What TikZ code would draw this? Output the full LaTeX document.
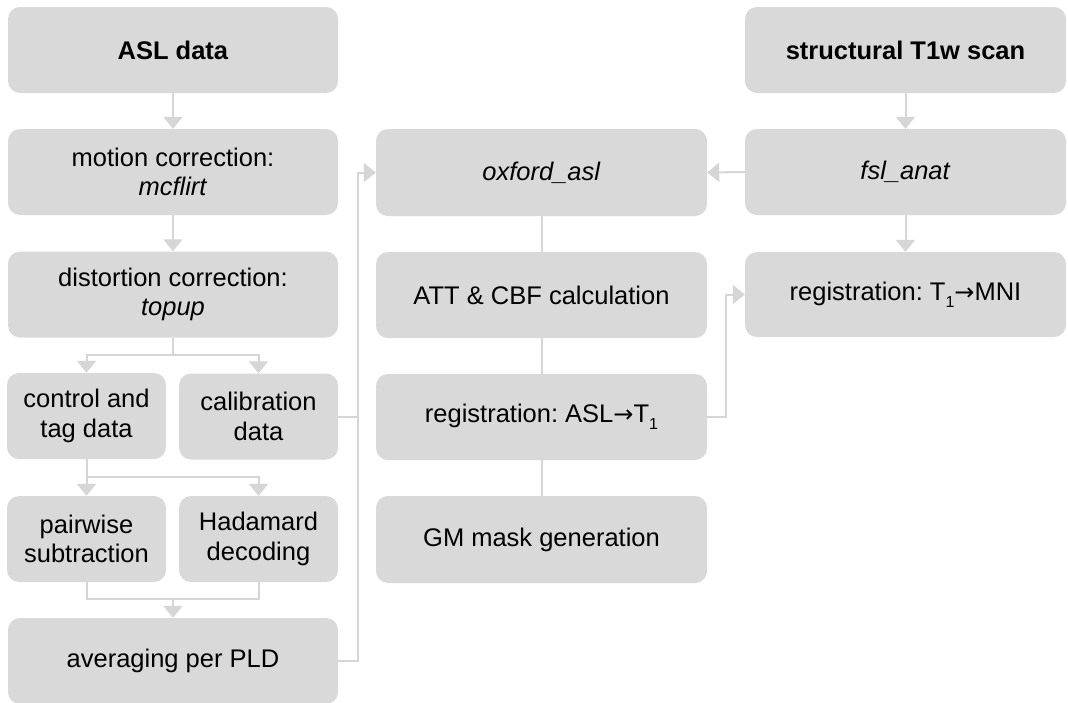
\documentclass[tikz,border=0pt]{standalone}
\usepackage{fontspec}
\setmainfont{Liberation Sans}
\newfontfamily\arrowfont{DejaVu Sans}
\usetikzlibrary{arrows.meta,calc}
\definecolor{boxgray}{RGB}{217,217,217}
\definecolor{linegray}{RGB}{214,214,214}
\newcommand{\myarrow}{{\arrowfont\fontsize{24}{24}\selectfont →}}
\newcommand{\subone}{\raisebox{-0.28em}{\fontsize{16}{16}\selectfont 1}}
\frenchspacing
\begin{document}
\begin{tikzpicture}[x=1pt,y=-1pt,
  box/.style={rounded corners=12pt, fill=boxgray, draw=none, align=center, inner sep=0pt,
    font=\fontsize{25.5}{29.5}\selectfont\frenchspacing},
  ln/.style={draw=linegray, line width=2pt},
  arr/.style={ln, -{Triangle[width=19pt,length=12pt]}, linegray}
]
\useasboundingbox[fill=white] (0,0) rectangle (1068,702);
% left column
\node[box, minimum width=330pt, minimum height=86pt] (asl) at (173,50) {\textbf{ASL data}};
\node[box, minimum width=330pt, minimum height=86pt] (motion) at (173,172) {motion correction:\\\textit{mcflirt}};
\node[box, minimum width=330pt, minimum height=86pt] (dist) at (173,294.5) {distortion correction:\\\textit{topup}};
\node[box, minimum width=159pt, minimum height=86pt] (ctrl) at (86.5,416) {control and\\tag data};
\node[box, minimum width=159pt, minimum height=86pt] (calib) at (258.5,416.5) {calibration\\data};
\node[box, minimum width=159pt, minimum height=86pt] (pair) at (86.5,539) {pairwise\\subtraction};
\node[box, minimum width=159pt, minimum height=86pt] (had) at (258.5,539) {Hadamard\\decoding};
\node[box, minimum width=330pt, minimum height=86pt] (avg) at (173,661) {averaging per PLD};
% middle column
\node[box, minimum width=331pt, minimum height=87pt] (oxford) at (541.5,172.5) {\textit{oxford\_asl}};
\node[box, minimum width=331pt, minimum height=86pt] (att) at (541.5,295) {ATT \& CBF calculation};
\node[box, minimum width=331pt, minimum height=86pt] (regasl) at (541.5,417) {registration: ASL\myarrow T\subone};
\node[box, minimum width=331pt, minimum height=87pt] (gm) at (541.5,539.5) {GM mask generation};
% right column
\node[box, minimum width=321pt, minimum height=86pt] (struct) at (905.5,50) {\textbf{structural T1w scan}};
\node[box, minimum width=321pt, minimum height=86pt] (fsl) at (905.5,172) {\textit{fsl\_anat}};
\node[box, minimum width=321pt, minimum height=85pt] (regt) at (905.5,294.5) {registration: T\subone\myarrow MNI};
% helper coordinates
\coordinate (s1) at (173,355);
\coordinate (s2) at (86.5,477);
\coordinate (m) at (173,599);
\coordinate (oxbus) at (358,172.5);
\coordinate (rb) at (726,294.5);
% connectors left
\draw[arr] (asl.south) -- (motion.north);
\draw[arr] (motion.south) -- (dist.north);
\draw[ln] (dist.south) -- (s1);
\draw[arr] (s1) -| (ctrl.north);
\draw[arr] (s1) -| (calib.north);
\draw[ln] (ctrl.south) -- (s2);
\draw[arr] (s2) -- (pair.north);
\draw[arr] (s2) -| (had.north);
\draw[ln] (pair.south) |- (m);
\draw[ln] (had.south) |- (m);
\draw[arr] (m) -- (avg.north);
\draw[ln] (calib.east) -- (calib.east -| oxbus);
\draw[arr] (avg.east) -| (oxbus) -- (oxford.west);
% middle
\draw[ln] (oxford.south) -- (att.north);
\draw[ln] (att.south) -- (regasl.north);
\draw[ln] (regasl.south) -- (gm.north);
\draw[arr] (regasl.east) -| (rb) -- (regt.west);
% right
\draw[arr] (struct.south) -- (fsl.north);
\draw[arr] (fsl.south) -- (regt.north);
\draw[arr] (fsl.west) -- (oxford.east);
\end{tikzpicture}
\end{document}
